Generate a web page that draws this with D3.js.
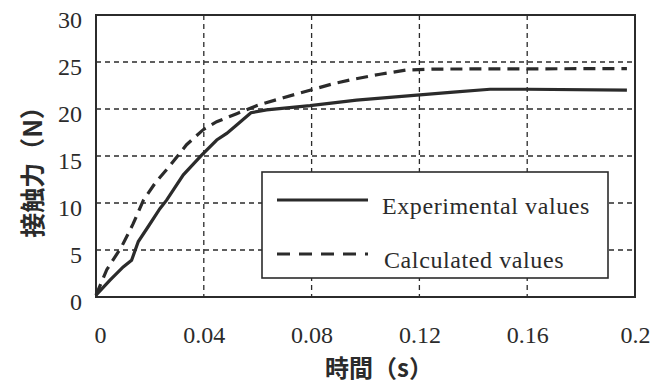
<!DOCTYPE html>
<html>
<head>
<meta charset="utf-8">
<script src="https://cdn.jsdelivr.net/npm/d3@7"></script>
<style>
  body { margin: 0; background: #fff; }
  svg { display: block; }
</style>
</head>
<body>
<div id="chart"></div>
<script>
// values: time (s), contact force (N)
var expTime = [0, 0.0052, 0.0101, 0.0132, 0.0157, 0.0194, 0.0237, 0.0262, 0.0324, 0.0392, 0.0448, 0.0485, 0.0522, 0.0575, 0.0633, 0.0794, 0.0967, 0.1202, 0.1326, 0.1462, 0.16, 0.197]
var expForce = [0.2, 1.8, 3.2, 3.9, 5.9, 7.5, 9.4, 10.3, 13.0, 15.1, 16.7, 17.4, 18.3, 19.6, 19.9, 20.35, 20.95, 21.5, 21.8, 22.1, 22.1, 22.0]
var calcTime = [0, 0.004, 0.0095, 0.0138, 0.0176, 0.0219, 0.0275, 0.0336, 0.0398, 0.0448, 0.0522, 0.0600, 0.0695, 0.0794, 0.0881, 0.0961, 0.1054, 0.1153, 0.1264, 0.197]
var calcForce = [0.2, 2.9, 5.35, 7.8, 10.3, 12.1, 14.0, 16.2, 17.8, 18.65, 19.5, 20.4, 21.2, 22.0, 22.7, 23.2, 23.7, 24.15, 24.25, 24.3]
var xTicks = [0, 0.04, 0.08, 0.12, 0.16, 0.2]
var xTickLabels = ["0", "0.04", "0.08", "0.12", "0.16", "0.2"]
var yTicks = [0, 5, 10, 15, 20, 25, 30]
var legendLabels = ["Experimental values", "Calculated values"]

var width = 669, height = 385
var pLeft = 96, pRight = 635, pTop = 15, pBottom = 297
var ink = "#2b2b2b"
var serif = "'Liberation Serif', 'Times New Roman', serif"
var cjk = "'Noto Sans CJK JP', 'Noto Sans', sans-serif"

var svg = d3.select("#chart").append("svg")
  .attr("width", width).attr("height", height)

var x = d3.scaleLinear().domain([0, 0.2]).range([pLeft, pRight])
var y = d3.scaleLinear().domain([0, 30]).range([pBottom, pTop])

// grid
var grid = svg.append("g")
grid.selectAll(".vgrid").data(xTicks.slice(1, -1)).enter().append("line")
  .attr("x1", function (d) { return x(d) }).attr("x2", function (d) { return x(d) })
  .attr("y1", pTop).attr("y2", pBottom)
  .style("stroke", ink).style("stroke-width", 1.3).style("stroke-dasharray", "5,4")
grid.selectAll(".hgrid").data(yTicks.slice(1, -1)).enter().append("line")
  .attr("x1", pLeft).attr("x2", pRight)
  .attr("y1", function (d) { return y(d) }).attr("y2", function (d) { return y(d) })
  .style("stroke", ink).style("stroke-width", 1.3).style("stroke-dasharray", "5,4")

// axes (labels only, frame drawn as a rect)
var xAxis = d3.axisBottom(x).tickValues(xTicks).tickSize(0).tickPadding(0)
  .tickFormat(function (d, i) { return xTickLabels[i] })
var gx = svg.append("g").attr("transform", "translate(0," + pBottom + ")").call(xAxis)
gx.select(".domain").remove()
gx.selectAll("text").attr("y", 46).attr("dy", null)
  .style("font-family", serif).style("font-size", "24px").style("fill", ink)
gx.selectAll("text").filter(function (d) { return d === 0 }).attr("dx", 4)

var yAxis = d3.axisLeft(y).tickValues(yTicks).tickSize(0).tickPadding(14)
var gy = svg.append("g").attr("transform", "translate(" + pLeft + ",0)").call(yAxis)
gy.select(".domain").remove()
gy.selectAll("text").attr("dy", "0.5em")
  .style("font-family", serif).style("font-size", "24px").style("fill", ink)

svg.append("rect")
  .attr("x", pLeft).attr("y", pTop).attr("width", pRight - pLeft).attr("height", pBottom - pTop)
  .style("fill", "none").style("stroke", ink).style("stroke-width", 2)

// curves
var line = d3.line().x(function (d) { return x(d[0]) }).y(function (d) { return y(d[1]) })
var expData = d3.zip(expTime, expForce)
var calcData = d3.zip(calcTime, calcForce)
svg.append("path").datum(calcData).attr("d", line)
  .style("fill", "none").style("stroke", ink).style("stroke-width", 3.2)
  .style("stroke-dasharray", "12,7")
svg.append("path").datum(expData).attr("d", line)
  .style("fill", "none").style("stroke", ink).style("stroke-width", 3.2)

// legend
var lg = svg.append("g")
lg.append("rect").attr("x", 262).attr("y", 172).attr("width", 346).attr("height", 106)
  .style("fill", "#fff").style("stroke", ink).style("stroke-width", 1.6)
var rows = lg.selectAll(".row").data(legendLabels).enter().append("g")
  .attr("transform", function (d, i) { return "translate(0," + (i === 0 ? 200 : 254) + ")" })
rows.append("line").attr("x1", 277).attr("x2", 368)
  .style("stroke", ink).style("stroke-width", 3.2)
  .style("stroke-dasharray", function (d, i) { return i === 0 ? null : "13,9" })
rows.append("text").attr("x", function (d, i) { return i === 0 ? 382 : 384 }).attr("y", 14)
  .text(function (d) { return d })
  .style("font-family", serif).style("font-size", "24px").style("letter-spacing", "0.6px")
  .style("fill", ink)

// axis titles
svg.append("text")
  .attr("transform", "translate(33," + 166 + ") rotate(-90)")
  .attr("text-anchor", "middle").attr("dy", "0.35em")
  .text("接触力（N）")
  .style("font-family", cjk).style("font-weight", 700).style("font-size", "25px").style("fill", ink)
svg.append("text")
  .attr("x", 379).attr("y", 369).attr("dy", "0.35em")
  .attr("text-anchor", "middle")
  .text("時間（s）")
  .style("font-family", cjk).style("font-weight", 700).style("font-size", "24px").style("fill", ink)
</script>
</body>
</html>
